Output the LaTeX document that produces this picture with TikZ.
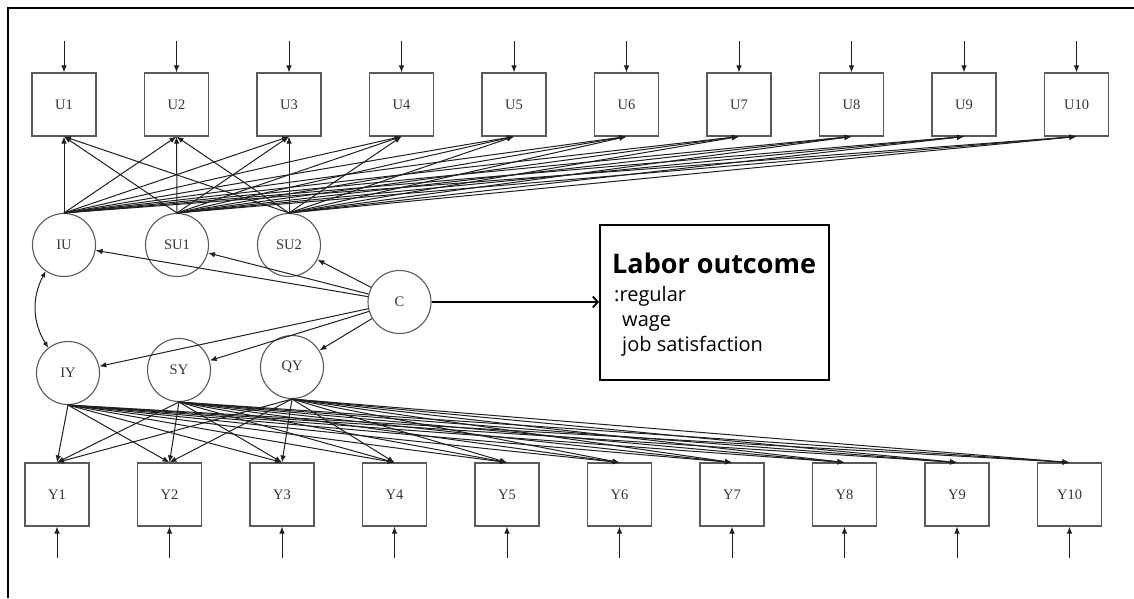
\documentclass[tikz,border=0pt]{standalone}
\usepackage{fontspec}
\setmainfont{Liberation Serif}
\newfontfamily\labfont{Open Sans}
\usetikzlibrary{arrows.meta}
\definecolor{boxgray}{HTML}{5A5A5A}
\definecolor{edgegray}{HTML}{202020}
\definecolor{textgray}{HTML}{333333}
\begin{document}
\begin{tikzpicture}[x=1pt,y=-1pt,
  obs/.style={draw=boxgray, line width=1.1pt, minimum width=64pt, minimum height=63pt, inner sep=0pt, font=\fontsize{14.5}{14.5}\selectfont, text=textgray},
  lat/.style={draw=boxgray, circle, line width=1.1pt, minimum size=63pt, inner sep=0pt, font=\fontsize{14.5}{14.5}\selectfont, text=textgray},
  arr/.style={draw=edgegray, line width=1pt, -{Latex[length=7pt,width=5.5pt]}},
  outbox/.style={draw=black, line width=2pt, minimum width=229pt, minimum height=155pt, inner sep=0pt},
  labtxt/.style={anchor=base west, inner sep=0pt, font=\labfont\fontsize{20}{20}\selectfont},
]
\useasboundingbox (0,0) rectangle (1134,598);
% frame
\draw[line width=2pt] (8,598) -- (8,8) -- (1134,8);

% observed boxes
\foreach \i in {1,...,10}{
  \pgfmathsetmacro{\ux}{64+112.5*(\i-1)}
  \pgfmathsetmacro{\yx}{57+112.5*(\i-1)}
  \node[obs] (U\i) at (\ux,104.5) {U\i};
  \node[obs] (Y\i) at (\yx,494.5) {Y\i};
  \coordinate (eu\i) at (\ux,41);
  \coordinate (ey\i) at (\yx,558);
  \draw[arr] (eu\i) -- (U\i.north);
  \draw[arr] (ey\i) -- (Y\i.south);
}

% latent variables
\node[lat] (IU) at (64,245) {IU};
\node[lat] (SU1) at (177,245) {SU1};
\node[lat] (SU2) at (289,245) {SU2};
\node[lat] (C) at (399.5,302) {C};
\node[lat] (IY) at (68,373) {IY};
\node[lat] (SY) at (179,370) {SY};
\node[lat] (QY) at (292,367) {QY};

% loadings
\foreach \l in {IU,SU1,SU2}{
  \foreach \i in {1,...,10}{
    \draw[arr] (\l.north) -- (U\i.south);
  }
}
\foreach \l in {IY,SY,QY}{
  \foreach \i in {1,...,10}{
    \draw[arr] (\l.south) -- (Y\i.north);
  }
}

% structural paths
\foreach \t in {IU,SU1,SU2,IY,SY,QY}{
  \draw[arr] (C) -- (\t);
}
\draw[draw=edgegray, line width=1pt, {Latex[length=6pt,width=5pt]}-{Latex[length=6pt,width=5pt]}] (IU.235) to[bend right=30] (IY.128);

% labor outcome
\node[outbox] (LO) at (714.5,302.5) {};
\node[anchor=base west, inner sep=0pt, font=\labfont\bfseries\fontsize{27}{27}\selectfont] (LT) at (612,273.3) {Labor outcome};
\node[labtxt] (L1) at (614,301.7) {:regular};
\node[labtxt] (L2) at (622,326.7) {wage};
\node[labtxt] (L3) at (622,351) {job satisfaction};
\draw[line width=1.8pt, -{Straight Barb[length=5pt,width=11pt]}] (C) -- (LO.west |- C);
\end{tikzpicture}
\end{document}
